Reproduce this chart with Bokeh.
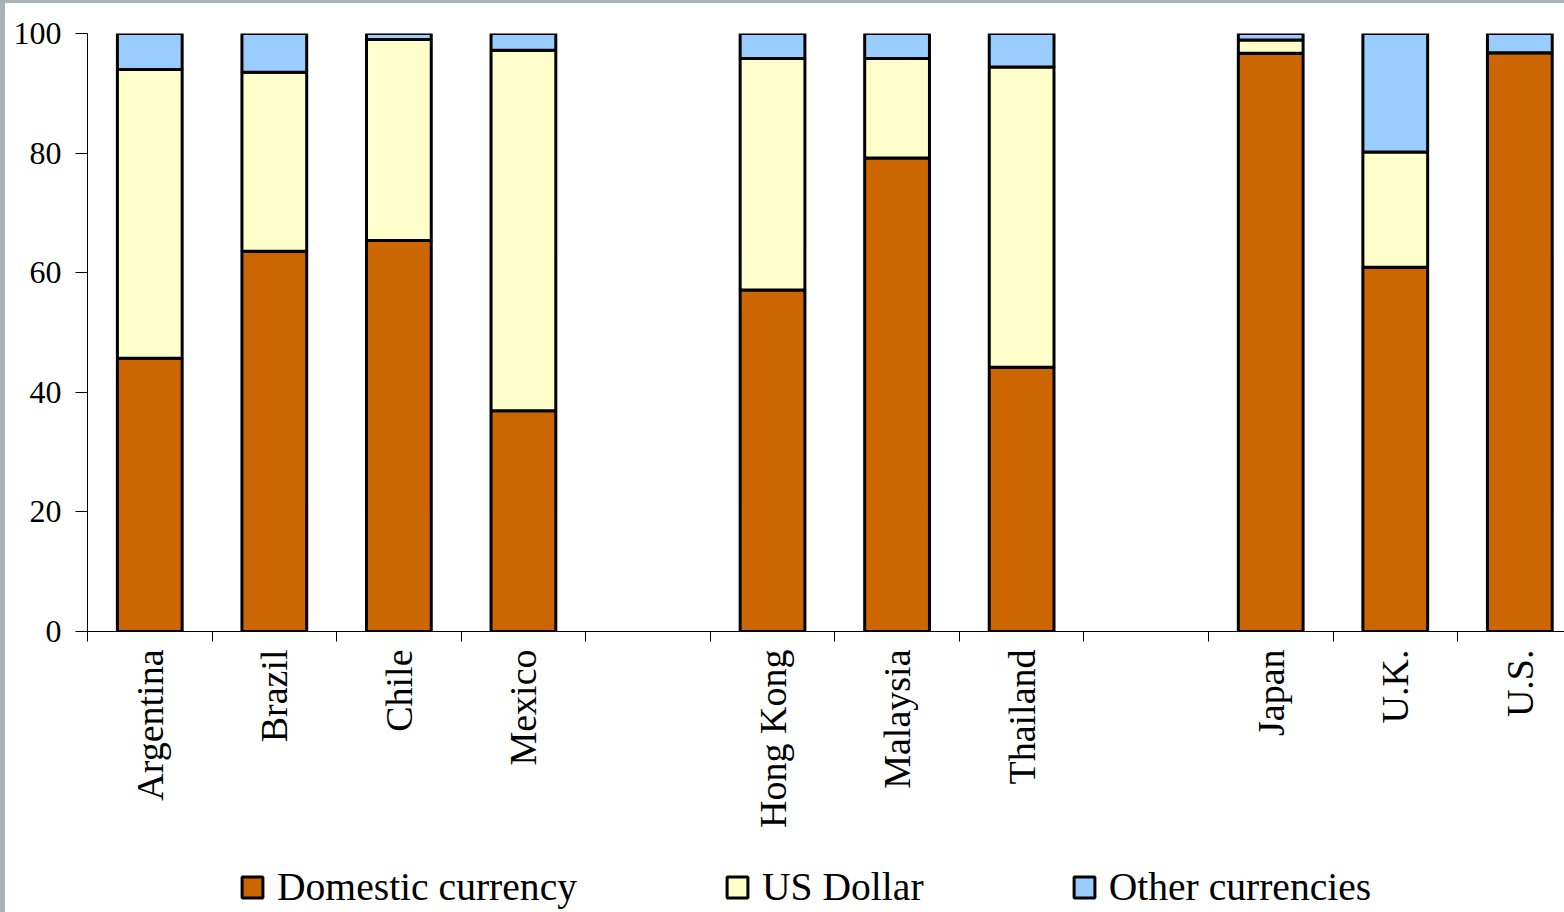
import numpy as np
from bokeh.plotting import figure
from bokeh.models import (ColumnDataSource, Range1d, FixedTicker, Legend, LegendItem, Column)
from bokeh.embed import file_html
from bokeh.resources import INLINE

# ---- data ----
slots = ["Argentina", "Brazil", "Chile", "Mexico", "", "Hong Kong", "Malaysia", "Thailand", "", "Japan", "U.K.", "U.S."]
countries = ["Argentina", "Brazil", "Chile", "Mexico", "Hong Kong", "Malaysia", "Thailand", "Japan", "U.K.", "U.S."]
domestic = [45.7, 63.6, 65.4, 36.9, 57.1, 79.2, 44.2, 96.7, 60.9, 96.8]
us_dollar = [48.3, 29.9, 33.6, 60.3, 38.7, 16.6, 50.2, 2.2, 19.3, 0.0]
other = [6.0, 6.5, 1.0, 2.8, 4.2, 4.2, 5.6, 1.1, 19.8, 3.2]
series_names = ["Domestic currency", "US Dollar", "Other currencies"]
colors = ["#CC6600", "#FFFFCC", "#99CCFF"]
y_ticks = [0, 20, 40, 60, 80, 100]

FONT = "Liberation Serif"

xpos = [slots.index(c) for c in countries]
d = np.array(domestic)
u = np.array(us_dollar)
o = np.array(other)
src = ColumnDataSource(dict(
    x=xpos,
    b0=np.zeros(len(d)), t0=d,
    b1=d, t1=d + u,
    b2=d + u, t2=d + u + o,
))

slot_px = 124.55
frame_w = 1559 - 82
x_end = -0.5 + frame_w / slot_px

p = figure(frame_width=frame_w, frame_height=598, output_backend="svg", toolbar_location=None,
           x_range=Range1d(-0.5, x_end), y_range=Range1d(0, 100),
           min_border_left=82, min_border_top=30, min_border_right=0, min_border_bottom=215)
p.outline_line_color = None
p.xgrid.visible = False
p.ygrid.visible = False
p.background_fill_color = None
p.border_fill_color = None

renderers = []
for i in range(3):
    r = p.vbar(x="x", bottom=f"b{i}", top=f"t{i}", width=0.52, source=src,
               fill_color=colors[i], line_color="black", line_width=3)
    renderers.append(r)

# x axis
xa = p.xaxis[0]
xa.ticker = FixedTicker(ticks=xpos, minor_ticks=[i - 0.5 for i in range(len(slots) + 1)])
xa.major_label_overrides = {xp: c for xp, c in zip(xpos, countries)}
xa.major_label_orientation = np.pi / 2
xa.major_tick_out = 0
xa.major_tick_in = 0
xa.minor_tick_out = 10
xa.minor_tick_in = 0
xa.minor_tick_line_color = "black"
xa.axis_line_color = "black"
xa.major_label_standoff = 8
xa.major_label_text_font = FONT
xa.major_label_text_font_size = "38px"
xa.major_label_text_color = "black"

# y axis
ya = p.yaxis[0]
ya.ticker = FixedTicker(ticks=y_ticks)
ya.minor_tick_line_color = None
ya.major_tick_out = 12
ya.major_tick_in = 0
ya.major_tick_line_color = "black"
ya.axis_line_color = "black"
ya.major_label_standoff = 14
ya.major_label_text_font = FONT
ya.major_label_text_font_size = "32px"
ya.major_label_text_color = "black"

# legend strip (separate small figure so the legend is never clipped)
lf = figure(frame_width=frame_w, height=66, output_backend="svg", toolbar_location=None,
            x_range=Range1d(0, 1), y_range=Range1d(0, 1),
            min_border_left=82, min_border_right=0, min_border_top=0, min_border_bottom=0)
lf.axis.visible = False
lf.grid.visible = False
lf.outline_line_color = None
lf.border_fill_color = None
lf.background_fill_color = None
hidden = ColumnDataSource(dict(x=[float("nan")], top=[float("nan")]))  # swatch-only source, draws nothing
dummies = [lf.vbar(x="x", top="top", width=0.1, source=hidden, fill_color=c,
                   line_color="black", line_width=3) for c in colors]

legend = Legend(items=[LegendItem(label=n, renderers=[r]) for n, r in zip(series_names, dummies)],
                orientation="horizontal", location=(152, 2),
                glyph_width=26, glyph_height=26, label_standoff=12, spacing=147,
                padding=0, margin=0, border_line_color=None, background_fill_alpha=0,
                label_text_font=FONT, label_text_font_size="39.6px", label_text_color="black")
lf.add_layout(legend, "center")

inner = Column(p, lf, spacing=0, margin=(3, 0, 0, 5), styles={"background-color": "white"})
layout = Column(inner, styles={"background-color": "#A7B3B8"})

open("out.html", "w").write(file_html(layout, INLINE))
